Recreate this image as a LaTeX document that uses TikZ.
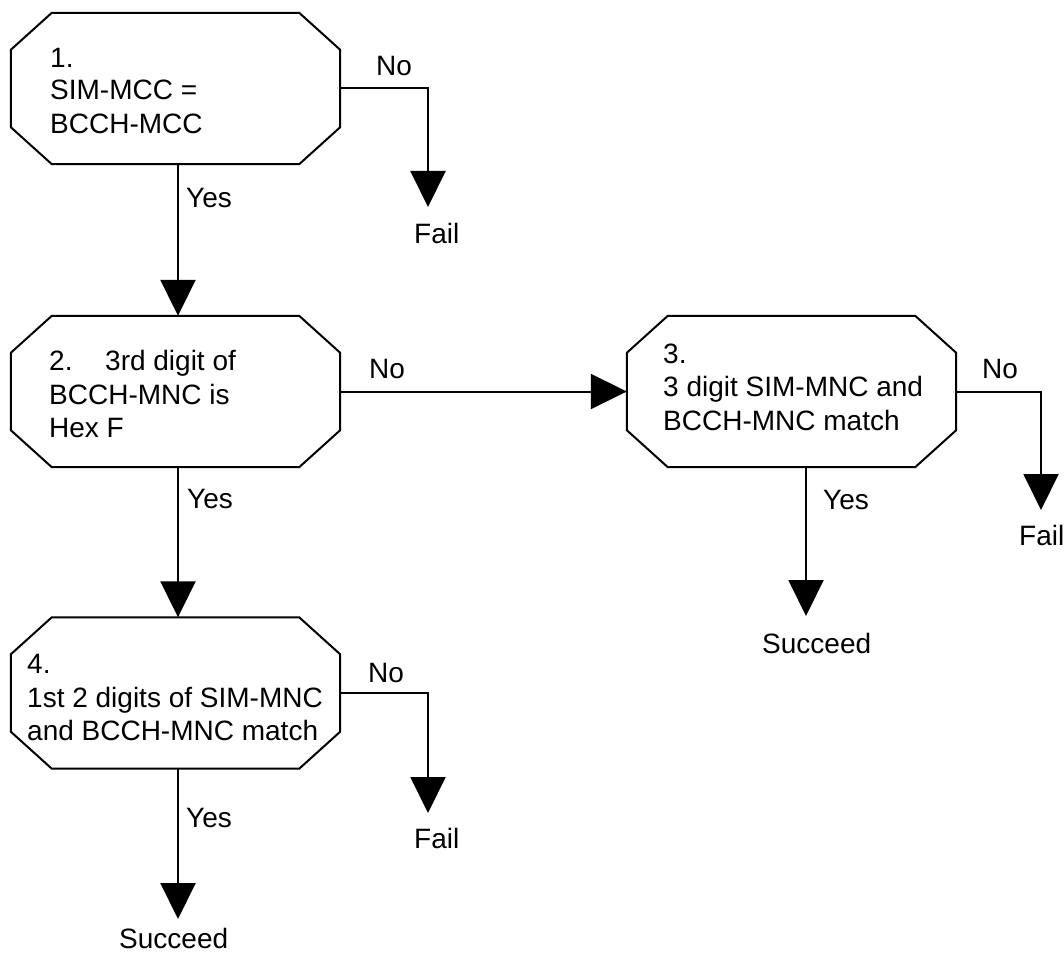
\documentclass[tikz,border=0pt]{standalone}
\usepackage{fontspec}
\setmainfont{Liberation Sans}
\usetikzlibrary{arrows.meta}
\newcommand\octoframe[1]{%
  \draw[boxline] ([xshift=41pt]#1.north west) -- ([xshift=-41pt]#1.north east)
    -- ([yshift=-37pt]#1.north east) -- ([yshift=37pt]#1.south east)
    -- ([xshift=-41pt]#1.south east) -- ([xshift=41pt]#1.south west)
    -- ([yshift=37pt]#1.south west) -- ([yshift=-37pt]#1.north west) -- cycle;}
\begin{document}
\begin{tikzpicture}[x=1pt,y=-1pt,
  every node/.style={font=\fontsize{28pt}{33.5pt}\selectfont},
  boxarea/.style={minimum width=329pt, minimum height=151pt, inner sep=0pt},
  boxline/.style={line width=2pt, line join=miter},
  lbl/.style={anchor=base west, inner sep=0pt},
  arr/.style={line width=2pt, -{Triangle[length=36pt, width=35pt]}}]
\useasboundingbox (0,0) rectangle (1064,952);

% boxes
\node[boxarea] (b1) at (175.5,88.5) {};
\node[boxarea] (b2) at (175.5,391.5) {};
\node[boxarea] (b3) at (791.5,391.5) {};
\node[boxarea] (b4) at (175.5,693) {};
\octoframe{b1}
\octoframe{b2}
\octoframe{b3}
\octoframe{b4}

% box texts
\node[lbl] (t1a) at (50,68) {1.};
\node[lbl] (t1b) at (50,100) {SIM-MCC =};
\node[lbl] (t1c) at (50,134) {BCCH-MCC};
\node[lbl] (t2a) at (49,370) {2.};
\node[lbl] (t2b) at (105,370) {3rd digit of};
\node[lbl] (t2c) at (49,404) {BCCH-MNC is};
\node[lbl] (t2d) at (49,437) {Hex F};
\node[lbl] (t3a) at (663,363) {3.};
\node[lbl] (t3b) at (663,396) {3 digit SIM-MNC and};
\node[lbl] (t3c) at (663,430) {BCCH-MNC match};
\node[lbl] (t4a) at (27,673) {4.};
\node[lbl] (t4b) at (27,707) {1st 2 digits of SIM-MNC};
\node[lbl] (t4c) at (27,740) {and BCCH-MNC match};

% end points
\coordinate (f1) at (428,207);
\coordinate (f3) at (1041,510);
\coordinate (f4) at (428,813);
\coordinate (s3) at (806,616);
\coordinate (s4) at (178,919);

% connectors
\draw[arr] (b1.east) -| (f1);
\draw[arr] ([xshift=2.5pt]b1.south) -- ([xshift=2.5pt]b2.north);
\draw[arr] (b2.east) -- (b3.west);
\draw[arr] ([xshift=2.5pt]b2.south) -- ([xshift=2.5pt]b4.north);
\draw[arr] (b3.east) -| (f3);
\draw[arr] (b3.south -| s3) -- (s3);
\draw[arr] (b4.east) -| (f4);
\draw[arr] (b4.south -| s4) -- (s4);

% connector labels
\node[lbl] (n1) at (376,76) {No};
\node[lbl] (y1) at (186,207) {Yes};
\node[lbl] (fl1) at (414,243) {Fail};
\node[lbl] (n2) at (369,378) {No};
\node[lbl] (y2) at (187,508) {Yes};
\node[lbl] (n3) at (982,378) {No};
\node[lbl] (y3) at (823,509) {Yes};
\node[lbl] (fl3) at (1019,545) {Fail};
\node[lbl] (sc3) at (762,653) {Succeed};
\node[lbl] (n4) at (368,682) {No};
\node[lbl] (y4) at (186,827) {Yes};
\node[lbl] (fl4) at (414,848) {Fail};
\node[lbl] (sc4) at (119,948) {Succeed};
\end{tikzpicture}
\end{document}
